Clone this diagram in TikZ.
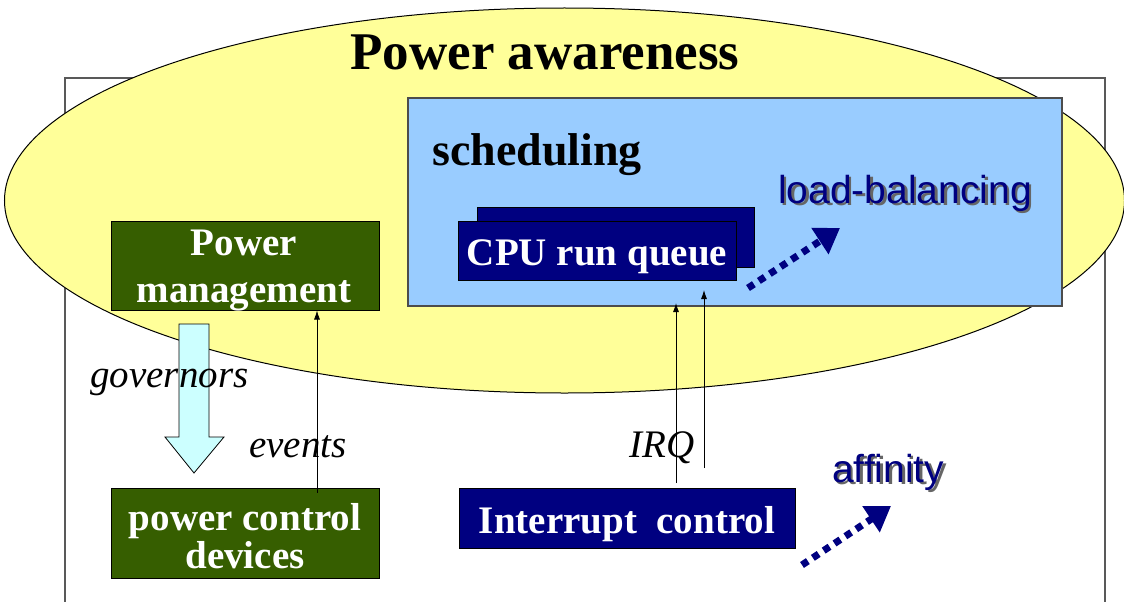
\documentclass[tikz,border=0pt]{standalone}
\usepackage{fontspec}
\setmainfont{Liberation Serif}
\newfontfamily\arialf{Liberation Sans}
\usetikzlibrary{arrows.meta,calc,shapes.geometric}
\definecolor{ylw}{RGB}{255,255,153}
\definecolor{skyb}{RGB}{153,204,255}
\definecolor{dgreen}{RGB}{54,94,0}
\definecolor{navyb}{RGB}{0,0,128}
\definecolor{lcyan}{RGB}{204,255,255}
\newcommand{\shtext}[1]{\rlap{\raisebox{-2.5pt}{\hspace{2.5pt}\textcolor{gray!80!black}{#1}}}\textcolor{navyb}{#1}}
\tikzset{
  boxg/.style={draw=black, line width=1pt, fill=dgreen, inner sep=0pt},
  boxn/.style={draw=black, line width=1pt, fill=navyb, inner sep=0pt},
  wtxt/.style={text=white, font=\bfseries\fontsize{39}{47}\selectfont, inner sep=0pt, anchor=base},
  itxt/.style={text=black, font=\itshape\fontsize{39}{47}\selectfont, inner sep=0pt, anchor=base west},
  stxt/.style={font=\arialf\fontsize{39}{47}\selectfont, inner sep=0pt, anchor=base west},
  thinarrow/.style={line width=0.8pt, -{Latex[length=9pt,width=6pt]}},
  dotarrow/.style={navyb, line width=7pt, dash pattern=on 7pt off 6pt, -{Triangle[length=24pt,width=30pt]}}
}
\begin{document}
\begin{tikzpicture}[x=1pt,y=-1pt]
\useasboundingbox (0,0) rectangle (1124,602);
\fill[white] (0,0) rectangle (1124,602);
% outer frame
\draw[gray!70!black, line width=1.3pt] (65,602) -- (65,78) -- (1105,78) -- (1105,602);
% ellipse
\node[ellipse, draw=black, line width=1pt, fill=ylw, inner sep=0pt, minimum width=1120pt, minimum height=385pt] (aw) at (564.5,200.5) {};
\node[font=\bfseries\fontsize{53}{60}\selectfont, inner sep=0pt, anchor=base] (awt) at (545,70) {Power awareness};
% scheduling box
\node[draw=black!70, line width=1.2pt, fill=skyb, minimum width=654pt, minimum height=208pt, inner sep=0pt] (sch) at (735,202) {};
\node[font=\bfseries\fontsize{46}{52}\selectfont, inner sep=0pt, anchor=base west] (scht) at (432,165) {scheduling};
% CPU run queue
\node[boxn, minimum width=277pt, minimum height=60pt] (cpub) at (615.5,237) {};
\node[boxn, minimum width=278pt, minimum height=59pt] (cpu) at (597,250.5) {};
\node[wtxt] (cput) at (597,265) {CPU run queue};
\node[stxt] (lb) at (778,203) {\shtext{load-balancing}};
% power management
\node[boxg, minimum width=268pt, minimum height=89pt] (pm) at (245,265.5) {};
\node[wtxt] (pmt1) at (244,255) {Power};
\node[wtxt] (pmt2) at (244,302) {management};
% power control devices
\node[boxg, minimum width=268pt, minimum height=90pt] (pcd) at (245,533) {};
\node[wtxt] (pcdt1) at (245,530) {power control};
\node[wtxt] (pcdt2) at (245,568) {devices};
% interrupt control
\node[boxn, minimum width=336pt, minimum height=60pt] (ic) at (627,518) {};
\node[wtxt] (ict) at (627,533) {Interrupt\ \ control};
\node[stxt] (aff) at (832,482) {\shtext{affinity}};
% governors block arrow
\draw[line width=0.8pt, fill=lcyan] (179,324) -- (209,324) -- (209,437) -- (224,437) -- (194,473) -- (165,437) -- (179,437) -- cycle;
\node[itxt] (gov) at (90,387) {governors};
% events
\coordinate (evx) at (317,0);
\draw[thinarrow] (pcd.north -| evx) ++(0,5) -- (pm.south -| evx);
\node[itxt] (ev) at (249,457) {events};
% IRQ
\coordinate (q1a) at (676,483);
\coordinate (q1b) at (676,303);
\coordinate (q2a) at (704,468);
\coordinate (q2b) at (704,290);
\draw[thinarrow] (q1a) -- (q1b);
\draw[thinarrow] (q2a) -- (q2b);
\node[itxt] (irq) at (629,457) {IRQ};
% dotted arrows
\coordinate (lbs) at (748,288);
\coordinate (lbe) at (840,228);
\draw[dotarrow] (lbs) -- (lbe);
\coordinate (afs) at (802,565);
\coordinate (afe) at (891,506);
\draw[dotarrow] (afs) -- (afe);
\end{tikzpicture}
\end{document}
